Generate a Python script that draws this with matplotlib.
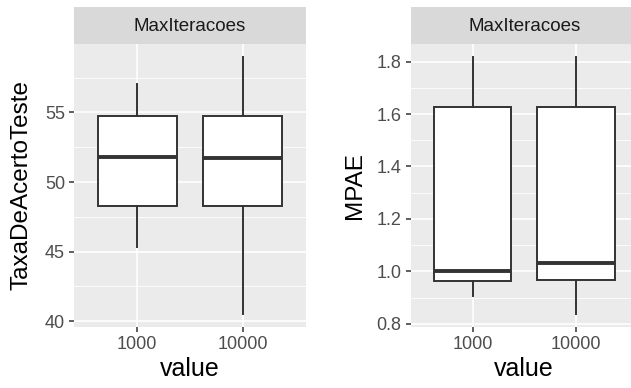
import matplotlib
matplotlib.use("Agg")
import matplotlib.pyplot as plt
from matplotlib.ticker import MultipleLocator

categories = ["1000", "10000"]
strip_label = "MaxIteracoes"
xlabel = "value"

# Panel 1: TaxaDeAcertoTeste
acc_whislo = [45.3, 40.5]
acc_q1 = [48.27, 48.27]
acc_med = [51.8, 51.73]
acc_q3 = [54.73, 54.73]
acc_whishi = [57.07, 59.0]
acc_ticks = [40, 45, 50, 55]

# Panel 2: MPAE
mpae_whislo = [0.905, 0.837]
mpae_q1 = [0.963, 0.969]
mpae_med = [1.0, 1.032]
mpae_q3 = [1.627, 1.627]
mpae_whishi = [1.818, 1.818]
mpae_ticks = [0.8, 1.0, 1.2, 1.4, 1.6, 1.8]

W, H = 631, 388
fig = plt.figure(figsize=(W / 100, H / 100), dpi=100)

TEXTFONT = "Liberation Sans"


def px_axes(x0, x1, y0, y1):
    return fig.add_axes([x0 / W, 1 - y1 / H, (x1 - x0) / W, (y1 - y0) / H])


def panel(x0, x1, whislo, q1, med, q3, whishi, ticks, minor, ylabel, ylab_x, tickfmt):
    ax = px_axes(x0, x1, 44, 327)
    stats = []
    for i in range(len(categories)):
        stats.append(dict(whislo=whislo[i], q1=q1[i], med=med[i], q3=q3[i],
                          whishi=whishi[i], fliers=[], label=categories[i]))
    lo = min(whislo)
    hi = max(whishi)
    pad = (hi - lo) * 0.05
    ax.set_ylim(lo - pad, hi + pad)
    ax.set_xlim(0.4, 2.6)
    ax.set_facecolor("#EBEBEB")
    for s in ax.spines.values():
        s.set_visible(False)
    ax.set_yticks(ticks)
    ax.yaxis.set_minor_locator(MultipleLocator(minor))
    ax.set_yticklabels([tickfmt.format(t) for t in ticks])
    ax.grid(True, which="major", color="white", linewidth=1.2)
    ax.grid(True, which="minor", axis="y", color="white", linewidth=0.6)
    ax.set_axisbelow(True)
    ax.bxp(stats, positions=[1, 2], widths=0.75, patch_artist=True,
           showcaps=False, showfliers=False,
           boxprops=dict(facecolor="white", edgecolor="#333333", linewidth=1.4),
           whiskerprops=dict(color="#333333", linewidth=1.4),
           medianprops=dict(color="#333333", linewidth=2.8, solid_capstyle="butt"),
           zorder=3)
    ax.set_xticks([1, 2])
    ax.set_xticklabels(categories)
    ax.tick_params(axis="both", which="major", length=3.5, width=1.1, color="#333333",
                   labelcolor="#4D4D4D", labelsize=13, pad=3)
    ax.tick_params(axis="y", which="minor", length=0)
    for lab in ax.get_xticklabels() + ax.get_yticklabels():
        lab.set_fontfamily(TEXTFONT)
    ax.set_xlabel(xlabel, fontsize=18, family=TEXTFONT, color="black", labelpad=3)
    ax.set_ylabel(ylabel, fontsize=17.5, family=TEXTFONT, color="black")
    ax.yaxis.set_label_coords((ylab_x - x0) / (x1 - x0), 0.5)
    # strip
    sax = px_axes(x0, x1, 7, 44)
    sax.set_facecolor("#D9D9D9")
    sax.set_xticks([])
    sax.set_yticks([])
    for s in sax.spines.values():
        s.set_visible(False)
    sax.text(0.5, 0.46, strip_label, ha="center", va="center", fontsize=13.5,
             family=TEXTFONT, color="#1A1A1A", transform=sax.transAxes)
    return ax


panel(74, 306, acc_whislo, acc_q1, acc_med, acc_q3, acc_whishi, acc_ticks, 2.5,
      "TaxaDeAcertoTeste", 33, "{:g}")
panel(410.5, 638, mpae_whislo, mpae_q1, mpae_med, mpae_q3, mpae_whishi, mpae_ticks, 0.1,
      "MPAE", 366, "{:.1f}")

fig.savefig("out.png", dpi=100)
